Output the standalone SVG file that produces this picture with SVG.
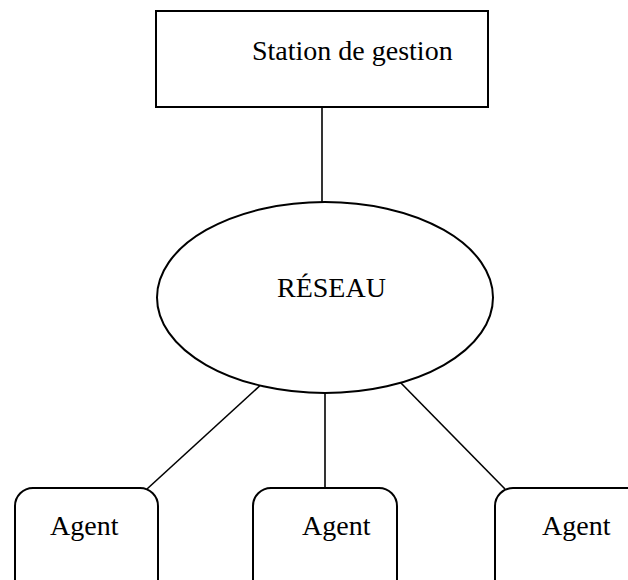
<svg xmlns="http://www.w3.org/2000/svg" width="628" height="580" viewBox="0 0 628 580">
  <style>
    .shape { fill: #ffffff; stroke: #000000; stroke-width: 2; }
    .link { stroke: #000000; stroke-width: 1.6; fill: none; }
    .label { font-family: "Liberation Serif", "Times New Roman", serif; font-size: 28px; fill: #000000; }
  </style>
  <rect width="628" height="580" fill="#ffffff"/>

  <g id="connectors">
    <line class="link" x1="322" y1="107" x2="322" y2="202"/>
    <line class="link" x1="265" y1="381" x2="147" y2="489"/>
    <line class="link" x1="325" y1="393" x2="325" y2="489"/>
    <line class="link" x1="398" y1="380" x2="505" y2="489"/>
  </g>

  <g id="station">
    <rect class="shape" x="156" y="11" width="332" height="96"/>
    <text class="label" x="252" y="60">Station de gestion</text>
  </g>

  <g id="reseau">
    <ellipse class="shape" cx="325" cy="297.5" rx="168" ry="95.5"/>
    <text class="label" x="277" y="297">RÉSEAU</text>
  </g>

  <g id="agent1">
    <rect class="shape" x="15" y="488" width="143" height="120" rx="18" ry="18"/>
    <text class="label" x="50" y="535">Agent</text>
  </g>

  <g id="agent2">
    <rect class="shape" x="253" y="488" width="144" height="120" rx="18" ry="18"/>
    <text class="label" x="302" y="535">Agent</text>
  </g>

  <g id="agent3">
    <rect class="shape" x="495" y="488" width="150" height="120" rx="18" ry="18"/>
    <text class="label" x="542" y="535">Agent</text>
  </g>
</svg>
